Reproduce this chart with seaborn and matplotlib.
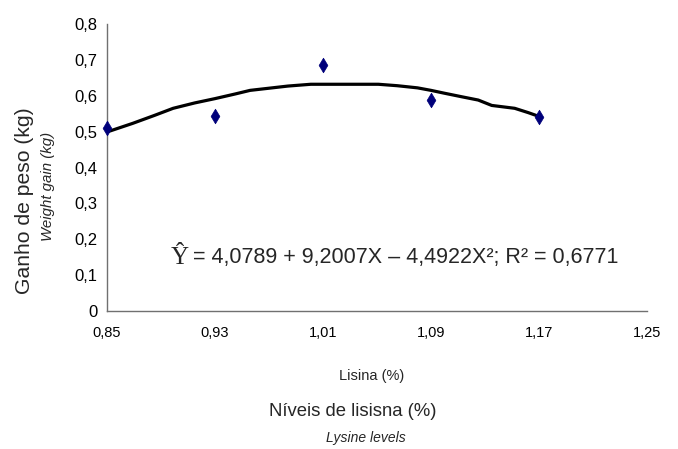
import matplotlib
matplotlib.use("Agg")
import matplotlib.pyplot as plt
import seaborn as sns
import pandas as pd
from matplotlib import font_manager

# Observed data
lysine = [0.85, 0.93, 1.01, 1.09, 1.17]
gain = [0.511, 0.544, 0.685, 0.588, 0.541]

# Fitted curve
curve_x = [0.85, 0.869, 0.885, 0.899, 0.915, 0.93, 0.945, 0.956, 0.970, 0.984,
           1.001, 1.02, 1.04, 1.051, 1.065, 1.08, 1.09, 1.10, 1.113, 1.125,
           1.135, 1.152, 1.162, 1.171]
curve_y = [0.499, 0.523, 0.545, 0.565, 0.58, 0.592, 0.605, 0.615, 0.621, 0.627,
           0.632, 0.632, 0.632, 0.632, 0.628, 0.622, 0.615, 0.607, 0.597, 0.588,
           0.573, 0.565, 0.553, 0.541]

xticks = [0.85, 0.93, 1.01, 1.09, 1.17, 1.25]
yticks = [0, 0.1, 0.2, 0.3, 0.4, 0.5, 0.6, 0.7, 0.8]

sns.set_theme(style="white")
plt.rcParams['font.family'] = ['Liberation Sans', 'DejaVu Sans']

names = {f.name for f in font_manager.fontManager.ttflist}
narrow = 'Liberation Sans Narrow' if 'Liberation Sans Narrow' in names else 'Liberation Sans'

fig = plt.figure(figsize=(6.78, 4.49), dpi=100)
ax = fig.add_axes([107/678, 1-311/449, 540/678, 287/449])

df_pts = pd.DataFrame({"x": lysine, "y": gain})
df_curve = pd.DataFrame({"x": curve_x, "y": curve_y})

sns.lineplot(data=df_curve, x="x", y="y", ax=ax, color="black", linewidth=2.3,
             sort=False, estimator=None)
sns.scatterplot(data=df_pts, x="x", y="y", ax=ax, marker="d", s=55,
                color="#00007a", edgecolor="#00007a", linewidth=0.5,
                zorder=5, clip_on=False)

ax.set_xlim(0.85, 1.25)
ax.set_ylim(0, 0.8)
ax.set_xticks(xticks)
ax.set_yticks(yticks)
ax.set_xticklabels([f"{v:.2f}".replace('.', ',') for v in xticks],
                   fontfamily=narrow, fontsize=10.5)
ax.set_yticklabels(["0" if v == 0 else f"{v:.1f}".replace('.', ',') for v in yticks],
                   fontsize=12)
ax.set_xlabel("")
ax.set_ylabel("")

for s in ["top", "right"]:
    ax.spines[s].set_visible(False)
for s in ["left", "bottom"]:
    ax.spines[s].set_color("#707070")
    ax.spines[s].set_linewidth(1.0)
ax.tick_params(axis="both", direction="out", length=4, width=1, color="#707070",
               colors="black", pad=3)
ax.tick_params(axis="x", pad=7)

# Equation
ax.text(171, 449-258, "\u0176", transform=None, fontsize=18,
        fontfamily=['Liberation Serif', 'DejaVu Serif'], va="center", ha="left")
ax.text(193, 449-257, "= 4,0789 + 9,2007X \u2013 4,4922X\u00b2; R\u00b2 = 0,6771",
        transform=None, fontsize=15.5, va="center", ha="left")

# Labels
fig.text(372/678, 1-376/449, "Lisina (%)", fontfamily=narrow, fontsize=10.5,
         ha="center", va="center")
fig.text(353/678, 1-412/449, "Níveis de lisisna (%)", fontsize=13.3,
         ha="center", va="center")
fig.text(366/678, 1-438/449, "Lysine levels", fontsize=10, style="italic",
         ha="center", va="center")
fig.text(25/678, 1-201/449, "Ganho de peso (kg)", fontsize=15.2, rotation=90,
         ha="center", va="center")
fig.text(48/678, 1-186/449, "Weight gain (kg)", fontsize=10.8, style="italic",
         rotation=90, ha="center", va="center")

fig.savefig("out.png", dpi=100)
